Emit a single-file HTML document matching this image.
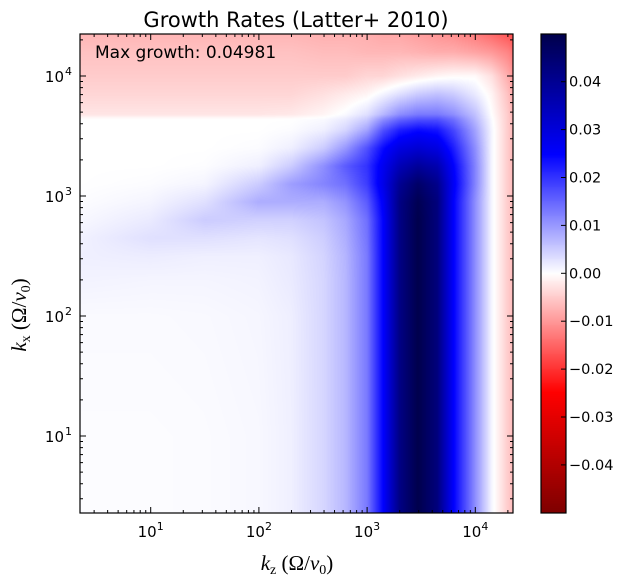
<!DOCTYPE html>
<html><head><meta charset="utf-8">
<style>
html,body{margin:0;padding:0;background:#fff;}
#wrap{position:relative;width:628px;height:586px;overflow:hidden;font-family:"DejaVu Sans","Liberation Sans",sans-serif;}
canvas{position:absolute;}
svg{position:absolute;left:0;top:0;}
</style></head>
<body>
<div id="wrap">
<canvas id="heat" style="left:80px;top:34px" width="433" height="479"></canvas>
<canvas id="cbar" style="left:541px;top:34px" width="25" height="479"></canvas>
<svg id="svg" width="628" height="586" xmlns="http://www.w3.org/2000/svg"></svg>
</div>
<script>
// ---- data ----
const logKzNodes = [0.3, 1.0, 1.5, 2.0, 2.3, 2.6, 2.8, 3.0, 3.15, 3.3, 3.47, 3.65, 3.8, 4.0, 4.15, 4.3, 4.4];
const logKxNodes = [0.3, 1.0, 2.0, 2.3, 2.5, 2.65, 2.8, 2.95, 3.1, 3.25, 3.4, 3.55, 3.64, 3.68, 3.85, 4.0, 4.2, 4.4];
const row0  = [0.0003,0.0003,0.0004,0.0007,0.0015,0.004,0.007,0.013,0.025,0.042,0.0498,0.043,0.025,0.011,0.001,-0.005,-0.008];
const row1  = [0.0003,0.0003,0.0004,0.0007,0.0015,0.004,0.007,0.013,0.025,0.042,0.0498,0.043,0.025,0.011,0.001,-0.005,-0.008];
const row2  = [0.0005,0.0005,0.0006,0.0009,0.0016,0.004,0.007,0.013,0.025,0.042,0.0498,0.043,0.025,0.011,0.001,-0.005,-0.008];
const row3  = [0.0012,0.001,0.001,0.0012,0.002,0.004,0.007,0.013,0.025,0.042,0.0498,0.043,0.025,0.011,0.001,-0.005,-0.008];
const row4  = [0.0015,0.0018,0.0015,0.0015,0.0022,0.0042,0.0072,0.013,0.025,0.042,0.0498,0.043,0.025,0.011,0.001,-0.005,-0.008];
const row5  = [0.0012,0.003,0.003,0.0025,0.003,0.0048,0.0078,0.0135,0.025,0.042,0.0498,0.043,0.025,0.011,0.001,-0.005,-0.008];
const row6  = [0.0006,0.002,0.005,0.0045,0.0045,0.0058,0.0085,0.014,0.025,0.042,0.0498,0.043,0.025,0.011,0.001,-0.005,-0.008];
const row7  = [0.0002,0.001,0.003,0.008,0.008,0.008,0.0105,0.016,0.026,0.042,0.049,0.043,0.025,0.011,0.001,-0.005,-0.008];
const row8  = [0,0.0003,0.001,0.005,0.0095,0.012,0.014,0.019,0.028,0.04,0.046,0.041,0.026,0.012,0.001,-0.005,-0.008];
const row9  = [0,0,0.0002,0.0015,0.005,0.011,0.016,0.02,0.027,0.035,0.039,0.036,0.025,0.012,0.001,-0.005,-0.009];
const row10 = [0,0,0,0.0003,0.0015,0.005,0.01,0.017,0.024,0.029,0.031,0.029,0.022,0.011,0.001,-0.005,-0.009];
const row11 = [0,0,0,0,0.0003,0.0015,0.004,0.009,0.017,0.022,0.024,0.023,0.018,0.009,0.001,-0.005,-0.009];
const row12 = [0,0,0,0,0,0.0005,0.002,0.005,0.011,0.015,0.017,0.017,0.014,0.007,0.0005,-0.005,-0.009];
const row13 = [-0.0025,-0.0025,-0.0025,-0.0025,-0.0022,-0.001,0.0005,0.003,0.007,0.011,0.013,0.013,0.011,0.006,0.0,-0.005,-0.01];
const row14 = [-0.004,-0.004,-0.004,-0.004,-0.004,-0.003,-0.002,-0.001,0.001,0.003,0.005,0.006,0.005,0.002,-0.001,-0.006,-0.011];
const row15 = [-0.005,-0.005,-0.005,-0.005,-0.005,-0.005,-0.005,-0.004,-0.004,-0.003,-0.002,-0.001,-0.0005,-0.0005,-0.003,-0.008,-0.012];
const row16 = [-0.006,-0.006,-0.006,-0.006,-0.006,-0.0065,-0.0065,-0.007,-0.007,-0.007,-0.0075,-0.008,-0.008,-0.009,-0.01,-0.012,-0.015];
const row17 = [-0.0075,-0.0075,-0.0075,-0.0075,-0.0075,-0.008,-0.008,-0.008,-0.009,-0.009,-0.01,-0.011,-0.012,-0.014,-0.016,-0.018,-0.02];
const growthGrid = [row0,row1,row2,row3,row4,row5,row6,row7,row8,row9,row10,row11,row12,row13,row14,row15,row16,row17];
const vmax = 0.04981;
const xTickExps = [1, 2, 3, 4];
const yTickExps = [1, 2, 3, 4];
const cbarTicks = [0.04, 0.03, 0.02, 0.01, 0.00, -0.01, -0.02, -0.03, -0.04];
const cbarLabels = ["0.04","0.03","0.02","0.01","0.00","\u22120.01","\u22120.02","\u22120.03","\u22120.04"];

// ---- axes ----
const PL=80, PR=513, PT=34, PB=513;
const xOf = lz => 150.7 + (lz-1)*108.2;
const yOf = lx => 436 - (lx-1)*120;
const lzOf = x => (x-150.7)/108.2 + 1;
const lxOf = y => 1 + (436-y)/120;
const CB_T=34, CB_B=513;
const cbY = v => 273.3 - v*4790;

function seismicR(v){
  let t = (v + vmax)/(2*vmax); t = Math.max(0, Math.min(1, t));
  const s = 1 - t;
  const stops=[[0,0,0,0.3],[0.25,0,0,1],[0.5,1,1,1],[0.75,1,0,0],[1,0.5,0,0]];
  for(let i=0;i<4;i++){
    const a=stops[i], b=stops[i+1];
    if(s<=b[0]){const f=(s-a[0])/(b[0]-a[0]);
      return [a[1]+(b[1]-a[1])*f, a[2]+(b[2]-a[2])*f, a[3]+(b[3]-a[3])*f].map(c=>Math.round(c*255));}
  }
  return [128,0,0];
}
function locate(nodes, v){
  if(v<=nodes[0]) return [0,0];
  for(let i=0;i<nodes.length-1;i++){ if(v<=nodes[i+1]) return [i,(v-nodes[i])/(nodes[i+1]-nodes[i])]; }
  return [nodes.length-2,1];
}
function sample(lz, lx){
  const [i,fx]=locate(logKzNodes,lz), [j,fy]=locate(logKxNodes,lx);
  const a=growthGrid[j][i], b=growthGrid[j][i+1], c=growthGrid[j+1][i], d=growthGrid[j+1][i+1];
  return (a*(1-fx)+b*fx)*(1-fy)+(c*(1-fx)+d*fx)*fy;
}
(function(){
  const cv=document.getElementById('heat'), ctx=cv.getContext('2d');
  const W=cv.width, H=cv.height, img=ctx.createImageData(W,H);
  for(let py=0;py<H;py++){
    const lx=lxOf(PT+py+0.5);
    for(let px=0;px<W;px++){
      const c=seismicR(sample(lzOf(PL+px+0.5), lx));
      const k=(py*W+px)*4; img.data[k]=c[0];img.data[k+1]=c[1];img.data[k+2]=c[2];img.data[k+3]=255;
    }
  }
  ctx.putImageData(img,0,0);
  const cb=document.getElementById('cbar'), c2=cb.getContext('2d');
  for(let py=0;py<cb.height;py++){
    const v=(273.3-(CB_T+py+0.5))/4790; const c=seismicR(v);
    c2.fillStyle=`rgb(${c[0]},${c[1]},${c[2]})`; c2.fillRect(0,py,cb.width,1);
  }
})();

const svg=document.getElementById('svg'); const NS='http://www.w3.org/2000/svg';
function mk(tag, attrs, parent){const e=document.createElementNS(NS,tag); for(const k in attrs) e.setAttribute(k,attrs[k]); (parent||svg).appendChild(e); return e;}
const ticksG=mk('g',{stroke:'#000','stroke-width':1});


for(let e=0;e<=4;e++){
  for(let m=1;m<10;m++){
    const l=e+Math.log10(m); const major=(m===1); const len=major?6:3;
    const x=xOf(l); if(x>PL+0.5 && x<PR-0.5){
      mk('line',{x1:x,x2:x,y1:PB,y2:PB-len},ticksG); mk('line',{x1:x,x2:x,y1:PT,y2:PT+len},ticksG);}
    const y=yOf(l); if(y>PT+0.5 && y<PB-0.5){
      mk('line',{x1:PL,x2:PL+len,y1:y,y2:y},ticksG); mk('line',{x1:PR,x2:PR-len,y1:y,y2:y},ticksG);}
  }
}
const frame=mk('rect',{x:PL,y:PT,width:PR-PL,height:PB-PT,fill:'none',stroke:'#000','stroke-width':1.2});


xTickExps.forEach(e=>{
  const t=mk('text',{x:xOf(e),y:537,'text-anchor':'middle','font-size':15,fill:'#000'});
  
  
  t.innerHTML='10<tspan dy="-7" font-size="11">'+e+'</tspan>';
});
yTickExps.forEach(e=>{
  const t=mk('text',{x:64,y:yOf(e)+6,'text-anchor':'end','font-size':15,fill:'#000'});
  
  
  t.innerHTML='10';
  const s=mk('text',{x:65,y:yOf(e)-1,'font-size':11,fill:'#000'});
  
  
  s.textContent=e;
});
const cbf=mk('rect',{x:541,y:CB_T,width:25,height:CB_B-CB_T,fill:'none',stroke:'#000','stroke-width':1.2});


cbarTicks.forEach((v,i)=>{
  const y=cbY(v);
  mk('line',{x1:566,x2:561,y1:y,y2:y,stroke:'#000'});
  const t=mk('text',{x:569,y:y+5,'font-size':14.5,fill:'#000'});
  
  
  t.textContent=cbarLabels[i];
});
</script>
<svg width="628" height="586" style="position:absolute;left:0;top:0;pointer-events:none" xmlns="http://www.w3.org/2000/svg">
<text x="296" y="27" text-anchor="middle" font-family="DejaVu Sans, Liberation Sans, sans-serif" font-size="21">Growth Rates (Latter+ 2010)</text>
<text x="95" y="58" font-family="DejaVu Sans, Liberation Sans, sans-serif" font-size="17">Max growth: 0.04981</text>
<text x="297" y="570" text-anchor="middle" font-family="Liberation Serif, DejaVu Serif, serif" font-size="21"><tspan font-style="italic">k</tspan><tspan font-size="14" dy="4">z</tspan><tspan dy="-4"> (Ω/</tspan><tspan font-style="italic">v</tspan><tspan font-size="14" dy="4">0</tspan><tspan dy="-4">)</tspan></text>
<text transform="translate(26,315) rotate(-90)" text-anchor="middle" font-family="Liberation Serif, DejaVu Serif, serif" font-size="21"><tspan font-style="italic">k</tspan><tspan font-size="14" dy="4">x</tspan><tspan dy="-4"> (Ω/</tspan><tspan font-style="italic">v</tspan><tspan font-size="14" dy="4">0</tspan><tspan dy="-4">)</tspan></text>
</svg>
</body></html>
